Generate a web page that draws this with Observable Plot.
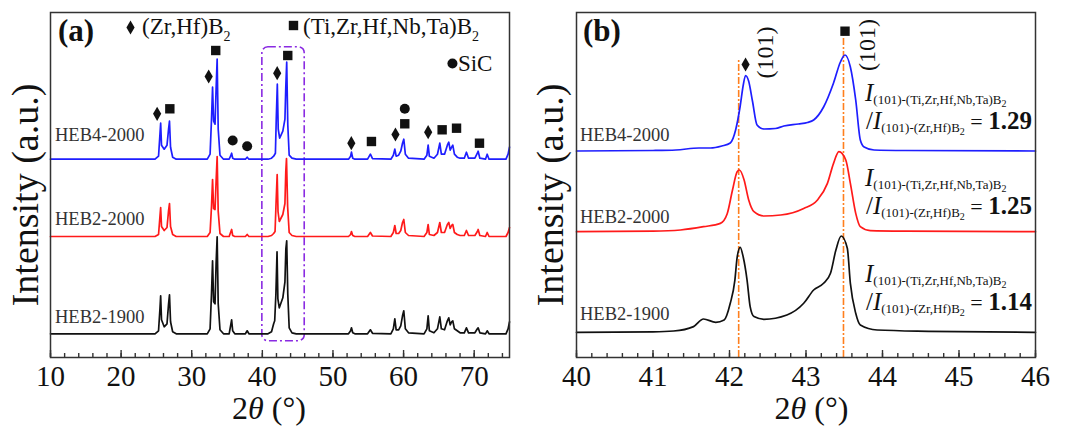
<!DOCTYPE html>
<html><head><meta charset="utf-8">
<script src="https://cdn.jsdelivr.net/npm/d3@7"></script>
<script src="https://cdn.jsdelivr.net/npm/@observablehq/plot@0.6"></script>
<style>
body{margin:0;background:#fff;}
#wrap{position:relative;width:1070px;height:426px;overflow:hidden;background:#fff;}
#wrap svg{position:absolute;top:0;}
#wrap svg text{white-space:pre;font-family:"Liberation Serif","Times New Roman",Times,serif !important;}
</style></head><body><div id="wrap"></div>
<script>
// ---------- data ----------
const seriesNames = ["HEB4-2000", "HEB2-2000", "HEB2-1900"];
const seriesColors = ["#1e1eff", "#ff1a1a", "#111111"];
// vertical stacking offsets (a.u.)
const offsetsA = [198.3, 121, 23.7];
const offsetsB = [206.5, 125.8, 25.2];

// panel (a): [2θ, intensity above own baseline]
const blueA = [[10,0],[24.8,0],[25.3,3],[25.5,25],[25.6,36],[25.72,14],[26.1,10],[26.5,14],[26.72,30],[26.85,38],[27.0,12],[27.3,2],[27.8,0],
[32.2,0],[32.6,5],[32.8,40],[32.95,72],[33.1,38],[33.3,35],[33.45,70],[33.6,100],[33.75,30],[34.0,4],[34.5,0],
[35.3,0],[35.5,3],[35.65,6],[35.8,1],[36.1,0],[37.6,0],[37.85,2],[38.1,0],
[40.8,0],[41.3,1],[41.6,3],[41.85,6],[41.97,40],[42.12,75],[42.25,30],[42.45,21],[42.9,28],[43.2,40],[43.32,72],[43.45,97],[43.6,35],[43.8,4],[44.2,1],[44.8,0],
[52.2,0],[52.5,3],[52.62,7],[52.8,1],[53.1,0],[54.9,0],[55.3,5],[55.6,0.5],[58.2,0],[58.55,4],[58.76,10],[58.95,3],[59.3,4],[59.6,8],[59.85,16],[60.03,20],[60.25,5],[60.7,1],
[62.9,0],[63.3,4],[63.48,14],[63.65,3],[64.3,1],[64.8,5],[65.13,16],[65.35,5],[65.8,5],[66.2,14],[66.4,17],[66.6,9],[66.8,12],[66.97,14],[67.2,5],[67.6,2],[68.0,1],
[68.6,1],[68.9,7],[69.2,1],[70.1,1],[70.45,6],[70.56,8],[70.8,1],[71.6,0],[71.84,5],[72.1,0],[74.5,0],[74.8,5],[75,12]];
const redA = [[10,0],[24.8,0],[25.3,2],[25.5,20],[25.6,29],[25.72,10],[26.1,6],[26.5,9],[26.72,26],[26.85,33],[27.0,10],[27.3,2],[27.8,0],
[32.2,0],[32.6,4],[32.8,30],[32.95,57],[33.1,28],[33.3,27],[33.45,55],[33.6,80],[33.75,25],[34.0,3],[34.5,0],
[35.3,0],[35.5,4],[35.65,7],[35.8,1],[36.1,0],[37.6,0],[37.85,2],[38.1,0],
[40.8,0],[41.3,1],[41.6,3],[41.8,5],[41.95,35],[42.1,62],[42.22,25],[42.4,15],[42.9,22],[43.2,33],[43.32,65],[43.42,78],[43.58,30],[43.8,4],[44.2,1],[44.8,0],
[52.2,0],[52.5,2],[52.62,5],[52.8,1],[53.1,0],[54.9,0],[55.3,4],[55.6,0.5],[58.2,0],[58.55,4],[58.76,11],[58.95,3],[59.3,3],[59.6,6],[59.85,14],[60.03,17],[60.25,4],[60.7,1],
[62.9,0],[63.3,4],[63.48,12],[63.65,2],[64.3,1],[64.8,4],[65.13,14],[65.35,4],[65.8,4],[66.2,12],[66.4,14],[66.6,8],[66.8,11],[66.97,12],[67.2,4],[67.6,2],[68.0,1],
[68.6,1],[68.9,6],[69.2,1],[70.1,1],[70.45,5],[70.56,7],[70.8,1],[71.6,0],[71.84,4],[72.1,0],[74.5,0],[74.8,4],[75,9]];
const blackA = [[10,0],[24.8,0],[25.3,3],[25.5,25],[25.6,38],[25.72,14],[26.1,7],[26.5,10],[26.72,30],[26.85,39],[27.0,12],[27.3,2],[27.8,0],
[32.2,0],[32.6,5],[32.8,40],[32.95,73],[33.1,32],[33.3,30],[33.45,70],[33.6,97],[33.75,30],[34.0,4],[34.5,0],
[35.3,0],[35.5,8],[35.65,14],[35.8,3],[36.1,0],[37.6,0],[37.85,3],[38.1,0],
[40.8,0],[41.3,2],[41.6,10],[41.75,13],[41.92,40],[42.08,82],[42.2,35],[42.4,26],[42.9,36],[43.2,52],[43.33,85],[43.45,93],[43.6,40],[43.8,6],[44.2,1],[44.8,0],
[52.2,0],[52.5,3],[52.62,6],[52.8,1],[53.1,0],[54.9,0],[55.3,4],[55.6,0.5],[58.2,0],[58.55,5],[58.76,15],[58.95,4],[59.3,4],[59.6,8],[59.85,18],[60.03,23],[60.25,5],[60.7,1],
[62.9,0],[63.3,5],[63.48,18],[63.65,3],[64.3,1],[64.8,5],[65.13,17],[65.35,5],[65.8,4],[66.2,13],[66.4,16],[66.6,9],[66.8,12],[66.97,13],[67.2,5],[67.6,3],[68.0,1],
[68.6,1],[68.9,6],[69.2,1],[70.1,1],[70.45,5],[70.56,6],[70.8,1],[71.6,0],[71.84,3],[72.1,0],[74.5,0],[74.8,5],[75,12]];

// panel (b): zoom 40–46°
const blueB = [[40,0],[41.0,0.5],[41.3,1],[41.6,3],[41.75,3],[41.9,5],[42.01,8],[42.08,21],[42.14,45],[42.18,66],[42.21,75.5],[42.25,70],[42.3,50],[42.36,26],[42.45,22],[42.6,22.5],[42.71,25],[42.9,27],[43.02,28.5],[43.1,31],[43.23,44],[43.36,68],[43.45,89],[43.51,96],[43.58,84],[43.65,51],[43.71,11],[43.76,4],[43.89,1],[44.3,0.5],[46,0]];
const redB = [[40,0],[41.0,0.5],[41.36,1.7],[41.66,5],[41.88,8.3],[41.97,18],[42.04,42],[42.1,60],[42.13,61.7],[42.19,52],[42.25,32],[42.32,20],[42.45,15.7],[42.67,16.7],[42.97,23.3],[43.15,31.7],[43.28,48.3],[43.36,68.3],[43.43,80],[43.52,71.7],[43.58,48.3],[43.65,18.3],[43.71,5],[43.84,1],[44.3,0.5],[46,0]];
const blackB = [[40,0],[41.0,0.5],[41.27,1.3],[41.53,5.7],[41.66,13.3],[41.82,10],[41.93,12.3],[42.01,29],[42.07,52],[42.1,75],[42.14,85],[42.18,75],[42.23,52],[42.27,25.7],[42.32,15.7],[42.45,13],[42.75,17.3],[42.97,29],[43.1,42.3],[43.23,49],[43.32,59],[43.39,82],[43.46,96.3],[43.54,84],[43.58,49],[43.65,19],[43.71,7.3],[43.93,2.3],[44.6,1],[46,0]];

// phase markers (panel a), absolute a.u.
const diamondsA = [[25.1,243.7],[32.4,281],[42.1,284.3],[52.6,214.3],[58.85,223],[63.48,225.3]];
const squaresA = [[26.9,248.7],[33.4,307],[43.6,302],[55.45,216],[60.17,233.7],[65.46,227.7],[67.5,229.3],[70.75,214.3]];
const circlesA = [[35.8,217],[37.85,211.3],[60.17,248.7]];
const legendA = {diamond:[21.33,330], square:[44.41,332], circle:[66.92,294]};
const legendLabels = ["(Zr,Hf)B", "(Ti,Zr,Hf,Nb,Ta)B", "SiC"];
const zoomBox = [{x1:40, x2:46, y1:16.3, y2:310.3}];

// panel (b) markers and reference lines
const diamondsB = [[42.21,293]];
const squaresB = [[43.51,326.3]];
const refLines = [{x:42.12, top:297.5}, {x:43.49, top:321.5}];
const ratios = ["1.29", "1.25", "1.14"];

const ticksA = [10,20,30,40,50,60,70];
const minorA = d3.range(10, 75.001, 2);
const ticksB = [40,41,42,43,44,45,46];
const minorB = d3.range(40, 46.001, 0.2);

// ---------- drawing ----------
const FONT = "'Liberation Serif', 'Times New Roman', Times, serif";
const yDomain = [0, 345];
const common = {height: 426, marginTop: 12, marginBottom: 69,
  y: {domain: yDomain, axis: null},
  style: {fontFamily: FONT, fontSize: "26px", color: "#111", background: "transparent", overflow: "visible"}};

function lines(data, offs, curve) {
  return data.map((s, i) => Plot.line(s, {x: d => d[0], y: d => d[1] + offs[i], stroke: seriesColors[i], strokeWidth: 1.7, curve}));
}

const plotA = Plot.plot({...common, width: 530, marginLeft: 50, marginRight: 21,
  x: {domain: [10, 75]},
  marks: [
    Plot.rect(zoomBox, {x1: "x1", x2: "x2", y1: "y1", y2: "y2", fill: "none", stroke: "#8a2be2", strokeWidth: 1.6, strokeDasharray: "8,3,2,3", rx: 6}),
    ...lines([blueA, redA, blackA], offsetsA, "linear"),
    Plot.dot(diamondsA, {x: d => d[0], y: d => d[1], symbol: "diamond", r: 4.3, fill: "#111", stroke: "none"}),
    Plot.dot(squaresA, {x: d => d[0], y: d => d[1], symbol: "square", r: 5.3, fill: "#111", stroke: "none"}),
    Plot.dot(circlesA, {x: d => d[0], y: d => d[1], symbol: "circle", r: 5, fill: "#111", stroke: "none"}),
    Plot.dot([legendA.diamond], {x: d => d[0], y: d => d[1], symbol: "diamond", r: 4.3, fill: "#111", stroke: "none"}),
    Plot.dot([legendA.square], {x: d => d[0], y: d => d[1], symbol: "square", r: 5.3, fill: "#111", stroke: "none"}),
    Plot.dot([legendA.circle], {x: d => d[0], y: d => d[1], symbol: "circle", r: 5, fill: "#111", stroke: "none"}),
    Plot.ruleX(minorA, {y1: 0, y2: 4, stroke: "#333", strokeWidth: 1.4}),
    Plot.ruleX(ticksA, {y1: 0, y2: 7, stroke: "#333", strokeWidth: 1.4}),
    Plot.axisX({ticks: ticksA, tickSize: 0, tickPadding: 8, label: null, fontSize: 29, tickFormat: d => String(d)}),
    Plot.frame({stroke: "#333", strokeWidth: 1.5})
  ]});

const plotB = Plot.plot({...common, width: 540, marginLeft: 46, marginRight: 35,
  x: {domain: [40, 46]},
  marks: [
    Plot.ruleX(refLines, {x: "x", y1: 0, y2: "top", stroke: "#ff7f1e", strokeWidth: 1.6, strokeDasharray: "7,2,2,2"}),
    ...lines([blueB, redB, blackB], offsetsB, "monotone-x"),
    Plot.dot(diamondsB, {x: d => d[0], y: d => d[1], symbol: "diamond", r: 4.3, fill: "#111", stroke: "none"}),
    Plot.dot(squaresB, {x: d => d[0], y: d => d[1], symbol: "square", r: 5.3, fill: "#111", stroke: "none"}),
    Plot.ruleX(minorB, {y1: 0, y2: 4, stroke: "#333", strokeWidth: 1.4}),
    Plot.ruleX(ticksB, {y1: 0, y2: 7, stroke: "#333", strokeWidth: 1.4}),
    Plot.axisX({ticks: ticksB, tickSize: 0, tickPadding: 8, label: null, fontSize: 29, tickFormat: d => String(d)}),
    Plot.frame({stroke: "#333", strokeWidth: 1.5})
  ]});

const wrap = document.getElementById("wrap");
plotA.style.left = "0px";
plotB.style.left = "530px";
wrap.appendChild(plotA);
wrap.appendChild(plotB);

function txt(svg, x, y, parts, opts = {}) {
  const t = d3.select(svg).append("text")
    .attr("x", x).attr("y", y)
    .attr("fill", opts.fill || "#111")
    .attr("text-anchor", opts.anchor || "start");
  if (opts.rotate) t.attr("transform", `rotate(${opts.rotate},${x},${y})`);
  if (opts.baseline) t.attr("dominant-baseline", opts.baseline);
  for (const p of parts) {
    const s = t.append("tspan").text(p.t).attr("font-size", p.size);
    if (p.dy) s.attr("dy", p.dy);
    if (p.italic) s.attr("font-style", "italic");
    if (p.bold) s.attr("font-weight", "bold");
  }
  return t;
}

function decorate(plot, panelLabel, labelY, labelX, titleX, yTitleX) {
  const svg = plot;
  txt(svg, labelX, 41, [{t: panelLabel, size: 31, bold: true}]);
  seriesNames.forEach((n, i) => txt(svg, labelX - 3, labelY[i], [{t: n, size: 18.5}], {fill: "#333"}));
  txt(svg, titleX, 419, [{t: "2", size: 32}, {t: "θ", size: 32, italic: true}, {t: " (°)", size: 32}], {anchor: "middle"});
  txt(svg, yTitleX, 195, [{t: "Intensity (a.u.)", size: 38}], {anchor: "middle", rotate: -90});
}

const xa = plotA.scale("x");

decorate(plotA, "(a)", [141, 225, 323], 58, 269, 38);
decorate(plotB, "(b)", [141, 223, 320], 583 - 530, 811.5 - 530, 563 - 530);

// legend texts (panel a)
txt(plotA, xa.apply(legendA.diamond[0]) + 12, 34, [{t: legendLabels[0], size: 23}, {t: "2", size: 14, dy: 7}]);
txt(plotA, xa.apply(legendA.square[0]) + 10, 34, [{t: legendLabels[1], size: 23}, {t: "2", size: 14, dy: 7}]);
txt(plotA, xa.apply(legendA.circle[0]) + 6, 71, [{t: legendLabels[2], size: 23}]);

// (101) labels, panel b
txt(plotB, 765 - 530, 52.5, [{t: "(101)", size: 24}], {anchor: "middle", rotate: -90, baseline: "central"});
txt(plotB, 866.7 - 530, 45, [{t: "(101)", size: 24}], {anchor: "middle", rotate: -90, baseline: "central"});

// intensity ratio annotations
const blockY = [[101, 129], [186, 214], [282, 310]];
ratios.forEach((r, i) => {
  const x0 = 865 - 530;
  txt(plotB, x0, blockY[i][0], [
    {t: "I", size: 25, italic: true},
    {t: "(101)-(Ti,Zr,Hf,Nb,Ta)B", size: 13, dy: 3},
    {t: "2", size: 10, dy: 3}]);
  txt(plotB, x0 + 1, blockY[i][1], [
    {t: "/", size: 25},
    {t: "I", size: 25, italic: true},
    {t: "(101)-(Zr,Hf)B", size: 13, dy: 3},
    {t: "2", size: 10, dy: 3},
    {t: " = ", size: 22, dy: -6},
    {t: r, size: 25, bold: true}]);
});
</script></body></html>
